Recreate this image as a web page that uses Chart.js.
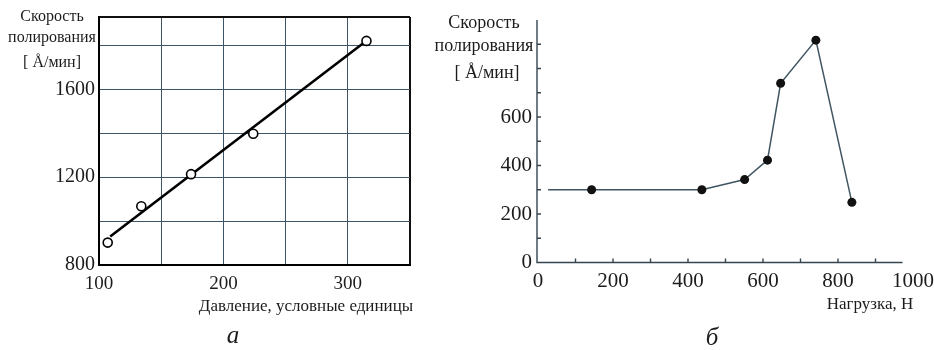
<!DOCTYPE html>
<html>
<head>
<meta charset="utf-8">
<script src="https://cdn.jsdelivr.net/npm/chart.js@4/dist/chart.umd.min.js"></script>
<style>
  html, body { margin: 0; padding: 0; background: #fff; }
  #wrap { position: relative; width: 934px; height: 350px; overflow: hidden;
          font-family: 'Liberation Serif', 'Times New Roman', serif; color: #1c1c1c; }
  .box { position: absolute; top: 0; height: 350px; }
  .lbl { position: absolute; white-space: nowrap; line-height: 1; transform: translate(-50%, -50%); }
  .cap { font-style: italic; font-size: 25px; }
</style>
</head>
<body>
<div id="wrap">
  <div class="box" style="left:0;width:440px"><canvas id="chartA" width="440" height="350"></canvas></div>
  <div class="box" style="left:470px;width:464px"><canvas id="chartB" width="464" height="350"></canvas></div>

  <!-- panel a: titles -->
  <div class="lbl" style="left:52px;top:16px;font-size:16px">Скорость</div>
  <div class="lbl" style="left:52px;top:37px;font-size:16px">полирования</div>
  <div class="lbl" style="left:52px;top:62px;font-size:16px">[ Å/мин]</div>
  <div class="lbl" style="left:306px;top:305px;font-size:17px">Давление, условные единицы</div>
  <div class="lbl cap" style="left:233px;top:334px">а</div>

  <!-- panel б: titles -->
  <div class="lbl" style="left:484px;top:22px;font-size:18px">Скорость</div>
  <div class="lbl" style="left:484px;top:45px;font-size:18px">полирования</div>
  <div class="lbl" style="left:487px;top:72px;font-size:18px">[ Å/мин]</div>
  <div class="lbl" style="left:870px;top:303px;font-size:17px">Нагрузка, Н</div>
  <div class="lbl cap" style="left:712px;top:336px">б</div>
</div>

<script>
// Panel a: polishing rate vs. pressure (measured points and linear fit)
const pressure = [107, 134, 174, 224, 315];
const rateA = [902, 1068, 1214, 1398, 1821];
const fitPressure = [109, 315];
const fitRate = [930, 1822];
const pressureTicks = [100, 200, 300];
const rateATicks = [800, 1200, 1600];

// Panel б: polishing rate vs. load
const load = [143, 437, 551, 612, 647, 741, 837];
const rateB = [300, 300, 342, 422, 739, 917, 248];
const plateauStartLoad = 27;
const plateauRate = 300;
const loadTicks = [0, 200, 400, 600, 800, 1000];
const rateBTicks = [0, 200, 400, 600];
const loadAxisEnd = 972;

const serif = "'Liberation Serif', 'Times New Roman', serif";
const textColor = '#1c1c1c';
const gridColor = '#3d5566';

new Chart(document.getElementById('chartA'), {
  type: 'scatter',
  data: {
    datasets: [
      {
        data: fitPressure.map((x, i) => ({ x, y: fitRate[i] })),
        showLine: true, borderColor: '#000', borderWidth: 2.6,
        pointRadius: 0, order: 2
      },
      {
        data: pressure.map((x, i) => ({ x, y: rateA[i] })),
        showLine: false, pointRadius: 4.5,
        pointBackgroundColor: '#fff', pointBorderColor: '#000', pointBorderWidth: 1.6,
        order: 1
      }
    ]
  },
  options: {
    responsive: false, animation: false, devicePixelRatio: 1,
    layout: { padding: { top: 17, right: 30, left: 0, bottom: 0 } },
    plugins: { legend: { display: false }, tooltip: { enabled: false } },
    scales: {
      x: {
        type: 'linear', min: 100, max: 350,
        ticks: {
          stepSize: 50, autoSkip: false, maxRotation: 0, padding: 8,
          color: textColor, font: { family: serif, size: 19 },
          callback: v => pressureTicks.includes(v) ? String(v) : ''
        },
        grid: {
          drawTicks: false,
          color: c => (c.tick && c.tick.value === 350) ? '#111' : gridColor,
          lineWidth: c => (c.tick && c.tick.value === 350) ? 2 : 1
        },
        border: { color: '#000', width: 2 },
        afterFit: s => { s.height = 85; }
      },
      y: {
        type: 'linear', min: 800, max: 1930,
        ticks: {
          stepSize: 200, autoSkip: false, padding: 4,
          color: textColor, font: { family: serif, size: 20 },
          callback: v => rateATicks.includes(v) ? String(v) : ''
        },
        grid: {
          drawTicks: false,
          color: c => (c.tick && c.tick.value === 1930) ? '#111' : gridColor,
          lineWidth: c => (c.tick && c.tick.value === 1930) ? 2 : 1
        },
        border: { color: '#000', width: 2 },
        afterFit: s => { s.width = 99; }
      }
    }
  }
});

// Axis lines with inward tick marks for panel б
const axisMarks = {
  id: 'axisMarks',
  beforeDatasetsDraw(chart) {
    const { ctx, scales: { x, y } } = chart;
    const x0 = x.getPixelForValue(0) - 1;
    const y0 = y.getPixelForValue(0);
    ctx.save();
    ctx.strokeStyle = '#34454f';
    ctx.lineWidth = 1.4;
    ctx.beginPath();
    ctx.moveTo(x0, y.getPixelForValue(1000));
    ctx.lineTo(x0, y0);
    ctx.lineTo(x.getPixelForValue(loadAxisEnd), y0);
    x.ticks.forEach(t => {
      if (t.value > 0 && t.value < 1000) {
        const px = x.getPixelForValue(t.value);
        ctx.moveTo(px, y0);
        ctx.lineTo(px, y0 - 4);
      }
    });
    y.ticks.forEach(t => {
      if (t.value > 0 && t.value < 1000) {
        const py = y.getPixelForValue(t.value);
        ctx.moveTo(x0, py);
        ctx.lineTo(x0 + 4, py);
      }
    });
    ctx.stroke();
    ctx.restore();
  }
};

const loadPoints = [{ x: plateauStartLoad, y: plateauRate }]
  .concat(load.map((x, i) => ({ x, y: rateB[i] })));

new Chart(document.getElementById('chartB'), {
  type: 'scatter',
  data: {
    datasets: [{
      data: loadPoints,
      showLine: true, borderColor: '#3f5561', borderWidth: 1.5,
      pointRadius: c => c.dataIndex === 0 ? 0 : 4.5,
      pointBackgroundColor: '#111', pointBorderColor: '#111', pointBorderWidth: 0
    }]
  },
  options: {
    responsive: false, animation: false, devicePixelRatio: 1,
    layout: { padding: { top: 20, right: 21, left: 0, bottom: 0 } },
    plugins: { legend: { display: false }, tooltip: { enabled: false } },
    scales: {
      x: {
        type: 'linear', min: 0, max: 1000,
        ticks: {
          stepSize: 100, autoSkip: false, maxRotation: 0, padding: 6,
          color: textColor, font: { family: serif, size: 21 },
          callback: v => loadTicks.includes(v) ? String(v) : ''
        },
        grid: { display: false, drawTicks: false },
        border: { display: false },
        // the "1000" label may overhang the plot area; keep the area width fixed
        afterFit: s => { s.height = 87.5; s.paddingLeft = 0; s.paddingRight = 0; }
      },
      y: {
        type: 'linear', min: 0, max: 1000,
        ticks: {
          stepSize: 100, autoSkip: false, padding: 6,
          color: textColor, font: { family: serif, size: 21 },
          callback: v => rateBTicks.includes(v) ? String(v) : ''
        },
        grid: { display: false, drawTicks: false },
        border: { display: false },
        afterFit: s => { s.width = 68; }
      }
    }
  },
  plugins: [axisMarks]
});
</script>
</body>
</html>
